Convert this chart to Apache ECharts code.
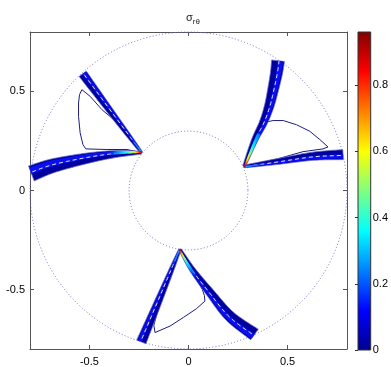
<!DOCTYPE html>
<html><head><meta charset="utf-8">
<script src="https://cdn.jsdelivr.net/npm/echarts@6/dist/echarts.min.js"></script>
<style>html,body{margin:0;padding:0;background:#fff}#c{width:391px;height:367px}</style>
</head><body><div id="c"></div>
<script>
// ---- data ----
const xTicks = [-0.5, 0, 0.5];
const yTicks = [-0.5, 0, 0.5];
const cbTicks = [0, 0.2, 0.4, 0.6, 0.8];
const cbMax = 0.96;
const ringRadii = [0.8, 0.3];

// crack branch centre lines, each starting at the crack tip on the inner circle
const crack1Straight = [[-0.237,0.191],[-0.385,0.388],[-0.534,0.589]];
const crack1Curved   = [[-0.237,0.191],[-0.345,0.186],[-0.446,0.174],[-0.572,0.151],[-0.698,0.121],[-0.793,0.086]];
const crack2Straight = [[0.280,0.121],[0.461,0.148],[0.629,0.173],[0.780,0.181]];
const crack2Curved   = [[0.280,0.121],[0.335,0.257],[0.377,0.341],[0.407,0.425],[0.427,0.509],[0.444,0.593],[0.452,0.655]];
const crack3Straight = [[-0.043,-0.297],[-0.140,-0.530],[-0.238,-0.764]];
const crack3Curved   = [[-0.043,-0.297],[0.020,-0.400],[0.108,-0.514],[0.209,-0.635],[0.333,-0.727]];

// thin contour loops between the two branches of each crack
const loop1 = [[-0.237,0.191],[-0.330,0.318],[-0.437,0.408],[-0.496,0.475],[-0.538,0.509],[-0.550,0.484],[-0.555,0.442],[-0.555,0.374],[-0.547,0.291],[-0.533,0.232],[-0.518,0.210],[-0.412,0.207],[-0.311,0.207],[-0.237,0.191]];
const loop2 = [[0.280,0.121],[0.345,0.257],[0.390,0.345],[0.427,0.353],[0.478,0.353],[0.545,0.332],[0.612,0.299],[0.663,0.257],[0.704,0.220],[0.679,0.210],[0.578,0.196],[0.450,0.160],[0.280,0.121]];
const loop3 = [[-0.043,-0.297],[-0.120,-0.480],[-0.175,-0.680],[-0.169,-0.717],[-0.093,-0.684],[-0.026,-0.641],[0.041,-0.596],[0.083,-0.558],[0.080,-0.530],[0.070,-0.500],[0.005,-0.380],[-0.043,-0.297]];

// ---- drawing ----
const branches = [
  {pts: crack1Straight, w0: 2.5, w1: 9,  hot: false},
  {pts: crack1Curved,   w0: 2.5, w1: 16, hot: true},
  {pts: crack2Straight, w0: 2.5, w1: 10, hot: false},
  {pts: crack2Curved,   w0: 2.5, w1: 13, hot: true},
  {pts: crack3Straight, w0: 2.5, w1: 10, hot: false},
  {pts: crack3Curved,   w0: 2.5, w1: 13, hot: true}
];

function spline(pts, n) {
  const out = [];
  for (let i = 0; i < pts.length - 1; i++) {
    const p0 = pts[Math.max(i-1,0)], p1 = pts[i], p2 = pts[i+1], p3 = pts[Math.min(i+2, pts.length-1)];
    for (let k = 0; k < n; k++) {
      const t = k / n, t2 = t*t, t3 = t2*t;
      const f = j => 0.5*((2*p1[j]) + (-p0[j]+p2[j])*t + (2*p0[j]-5*p1[j]+4*p2[j]-p3[j])*t2 + (-p0[j]+3*p1[j]-3*p2[j]+p3[j])*t3);
      out.push([f(0), f(1)]);
    }
  }
  out.push(pts[pts.length-1]);
  return out;
}

function bandRender(params, api) {
  const b = branches[params.dataIndex];
  const raw = b.pts.map(p => api.coord(p));
  const P = spline(raw, 12);
  const L = [0];
  for (let i = 1; i < P.length; i++) L.push(L[i-1] + Math.hypot(P[i][0]-P[i-1][0], P[i][1]-P[i-1][1]));
  const tot = L[L.length-1];
  const T = L.map(l => l / tot);
  const N = P.map((p, i) => {
    const a = P[Math.max(i-1,0)], c = P[Math.min(i+1,P.length-1)];
    const dx = c[0]-a[0], dy = c[1]-a[1], d = Math.hypot(dx,dy) || 1;
    return [-dy/d, dx/d];
  });
  const hw = t => (b.w0 + (b.w1 - b.w0) * Math.pow(t, 0.75)) / 2;
  function strip(scale, shift, t0, t1) {
    const left = [], right = [];
    for (let i = 0; i < P.length; i++) {
      if (T[i] < t0 || T[i] > t1) continue;
      const h = hw(T[i]), c = shift * h, s = scale * h;
      left.push([P[i][0] + N[i][0]*(c+s), P[i][1] + N[i][1]*(c+s)]);
      right.push([P[i][0] + N[i][0]*(c-s), P[i][1] + N[i][1]*(c-s)]);
    }
    return left.concat(right.reverse());
  }
  function line(shift, t0, t1) {
    const out = [];
    for (let i = 0; i < P.length; i++) {
      if (T[i] < t0 || T[i] > t1) continue;
      const c = shift * hw(T[i]);
      out.push([P[i][0] + N[i][0]*c, P[i][1] + N[i][1]*c]);
    }
    return out;
  }
  const hotEnd = P[Math.round(P.length * (b.hot ? 0.33 : 0.22))];
  const grad = b.hot ? {
    type: 'linear', global: true, x: P[0][0], y: P[0][1], x2: hotEnd[0], y2: hotEnd[1],
    colorStops: [
      {offset: 0, color: '#b00000'}, {offset: 0.06, color: '#ff3000'}, {offset: 0.16, color: '#ffd800'},
      {offset: 0.3, color: '#90ff70'}, {offset: 0.48, color: '#10e8ff'}, {offset: 0.7, color: '#0090ff'},
      {offset: 1, color: 'rgba(0,60,255,0)'}]
  } : {
    type: 'linear', global: true, x: P[0][0], y: P[0][1], x2: hotEnd[0], y2: hotEnd[1],
    colorStops: [{offset: 0, color: '#40b0ff'}, {offset: 0.4, color: '#1070ff'}, {offset: 1, color: 'rgba(0,40,255,0)'}]
  };
  return {
    type: 'group',
    children: [
      {type: 'polygon', shape: {points: strip(1.0, 0, 0, 1)}, style: {fill: '#00009c', stroke: 'rgba(110,110,200,0.75)', lineWidth: 1}},
      {type: 'polygon', shape: {points: strip(0.42, 0.35, 0, 1)}, style: {fill: '#0a10f2'}},
      {type: 'polyline', shape: {points: line(0.15, 0.08, 1)}, style: {fill: null, stroke: 'rgba(255,255,255,0.9)', lineWidth: 1, lineDash: [4, 3]}},
      {type: 'polygon', shape: {points: strip(b.hot ? 0.5 : 0.45, b.hot ? 0.35 : 0.2, 0, b.hot ? 0.33 : 0.22)}, style: {fill: grad}}
    ]
  };
}

const jetStops = [
  {offset: 0, color: '#00008f'}, {offset: 0.125, color: '#0000ff'}, {offset: 0.375, color: '#00ffff'},
  {offset: 0.625, color: '#ffff00'}, {offset: 0.875, color: '#ff0000'}, {offset: 1, color: '#800000'}];

const chart = echarts.init(document.getElementById('c'), null, {renderer: 'canvas'});
const axisCol = '#555';
const lblFont = {fontFamily: 'Liberation Sans, Arial, sans-serif', fontSize: 11, color: '#000'};
const loopSeries = [loop1, loop2, loop3].map(lp => ({
  type: 'line', xAxisIndex: 0, yAxisIndex: 0, data: lp, showSymbol: false, symbol: 'none', z: 3,
  lineStyle: {color: '#1c1c84', width: 1}, silent: true, animation: false
}));

chart.setOption({
  animation: false,
  title: {
    text: '{s|σ}{b|rθ}', left: 188, top: 5, textAlign: 'center',
    textStyle: {fontWeight: 'normal', rich: {
      s: {fontFamily: 'Liberation Sans, Arial, sans-serif', fontSize: 11, fontWeight: 'normal', color: '#222'},
      b: {fontFamily: 'Liberation Sans, Arial, sans-serif', fontSize: 8, fontWeight: 'normal', color: '#222', padding: [8,0,0,0]}
    }}
  },
  grid: [
    {left: 30, top: 32, width: 317, height: 318, show: false},
    {left: 358, top: 32, width: 14, height: 318, show: false}
  ],
  xAxis: [
    {type: 'value', gridIndex: 0, min: -0.8, max: 0.8, position: 'bottom',
     axisLine: {show: true, onZero: false, lineStyle: {color: axisCol}},
     axisTick: {show: true, inside: true, length: 4, customValues: xTicks, lineStyle: {color: axisCol}},
     axisLabel: Object.assign({customValues: xTicks, margin: 7}, lblFont), splitLine: {show: false}},
    {type: 'value', gridIndex: 0, min: -0.8, max: 0.8, position: 'top',
     axisLine: {show: true, onZero: false, lineStyle: {color: axisCol}},
     axisTick: {show: true, inside: true, length: 4, customValues: xTicks, lineStyle: {color: axisCol}},
     axisLabel: {show: false}, splitLine: {show: false}},
    {type: 'value', gridIndex: 1, min: 0, max: 1, show: false}
  ],
  yAxis: [
    {type: 'value', gridIndex: 0, min: -0.8, max: 0.8, position: 'left',
     axisLine: {show: true, onZero: false, lineStyle: {color: axisCol}},
     axisTick: {show: true, inside: true, length: 4, customValues: yTicks, lineStyle: {color: axisCol}},
     axisLabel: Object.assign({customValues: yTicks, margin: 5}, lblFont), splitLine: {show: false}},
    {type: 'value', gridIndex: 0, min: -0.8, max: 0.8, position: 'right',
     axisLine: {show: true, onZero: false, lineStyle: {color: axisCol}},
     axisTick: {show: true, inside: true, length: 4, customValues: yTicks, lineStyle: {color: axisCol}},
     axisLabel: {show: false}, splitLine: {show: false}},
    {type: 'value', gridIndex: 1, min: 0, max: cbMax, position: 'right',
     axisLine: {show: false},
     axisTick: {show: true, inside: true, length: 3, customValues: cbTicks, lineStyle: {color: '#333'}},
     axisLabel: Object.assign({customValues: cbTicks, margin: 2}, lblFont), splitLine: {show: false}}
  ],
  series: [
    {type: 'custom', xAxisIndex: 0, yAxisIndex: 0, z: 2, silent: true,
     data: ringRadii.map(r => [0, 0, r]),
     renderItem: (params, api) => {
       const c = api.coord([api.value(0), api.value(1)]);
       const r = api.size([api.value(2), 0])[0];
       return {type: 'circle', shape: {cx: c[0], cy: c[1], r: r},
               style: {fill: null, stroke: '#6a6ad8', lineWidth: 1, lineDash: [1, 2.2]}};
     }},
    ...loopSeries,
    {type: 'custom', xAxisIndex: 0, yAxisIndex: 0, z: 4, silent: true,
     data: branches.map((b, i) => [i]), renderItem: bandRender},
    {type: 'custom', xAxisIndex: 2, yAxisIndex: 2, z: 2, silent: true,
     data: [[0, 0, 1, cbMax]],
     renderItem: (params, api) => {
       const p0 = api.coord([api.value(0), api.value(1)]);
       const p1 = api.coord([api.value(2), api.value(3)]);
       return {type: 'rect', shape: {x: p0[0], y: p1[1], width: p1[0]-p0[0], height: p0[1]-p1[1]},
               style: {fill: {type: 'linear', x: 0, y: 1, x2: 0, y2: 0, colorStops: jetStops}, stroke: '#333', lineWidth: 1}};
     }}
  ]
});
</script></body></html>
